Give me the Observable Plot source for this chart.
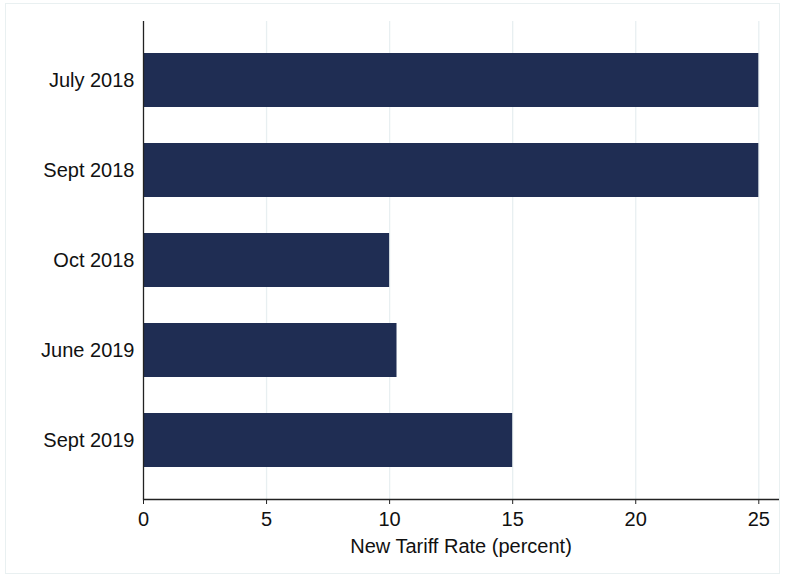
<!DOCTYPE html>
<html>
<head>
<meta charset="utf-8">
<script src="https://cdn.jsdelivr.net/npm/d3@7"></script>
<script src="https://cdn.jsdelivr.net/npm/@observablehq/plot@0.6"></script>
<style>
  html, body { margin: 0; padding: 0; background: #fff; }
  #chart { position: relative; width: 785px; height: 577px; }
  #border { position: absolute; left: 5px; top: 3px; width: 775px; height: 571px; border: 1px solid #e9f0f1; box-sizing: border-box; pointer-events: none; }
</style>
</head>
<body>
<div id="chart"><div id="border"></div></div>
<script>
const periods = ["July 2018", "Sept 2018", "Oct 2018", "June 2019", "Sept 2019"];
const rates = [25, 25, 10, 10.3, 15];
const xTicks = [0, 5, 10, 15, 20, 25];
const gridTicks = [5, 10, 15, 20, 25];
const xLabel = "New Tariff Rate (percent)";

const data = periods.map((p, i) => ({period: p, rate: rates[i]}));
const font = "'Liberation Sans', Arial, Helvetica, sans-serif";

const chart = Plot.plot({
  width: 785,
  height: 577,
  marginLeft: 143,
  marginRight: 7,
  marginTop: 21,
  marginBottom: 78,
  style: {fontFamily: font, fontSize: "20px", color: "#111", background: "transparent"},
  x: {domain: [0, 25.8]},
  y: {domain: periods, paddingInner: 0.4, paddingOuter: 0.34},
  marks: [
    Plot.ruleX(gridTicks, {stroke: "#e8eff1", strokeWidth: 1.3}),
    Plot.barX(data, {x: "rate", y: "period", fill: "#1f2d53"}),
    Plot.ruleX([0], {stroke: "#222", strokeWidth: 1.3}),
    Plot.frame({anchor: "bottom", stroke: "#222", strokeWidth: 1.3}),
    Plot.axisX({ticks: xTicks, tickSize: 5, tickPadding: 7, label: null, stroke: "#222", fontSize: 20}),
    Plot.axisY({tickSize: 0, tickPadding: 9, label: null, fontSize: 20}),
    Plot.text([xLabel], {frameAnchor: "bottom", dy: 47, lineAnchor: "middle", fontSize: 20, fill: "#111"})
  ]
});
document.getElementById("chart").appendChild(chart);
</script>
</body>
</html>
